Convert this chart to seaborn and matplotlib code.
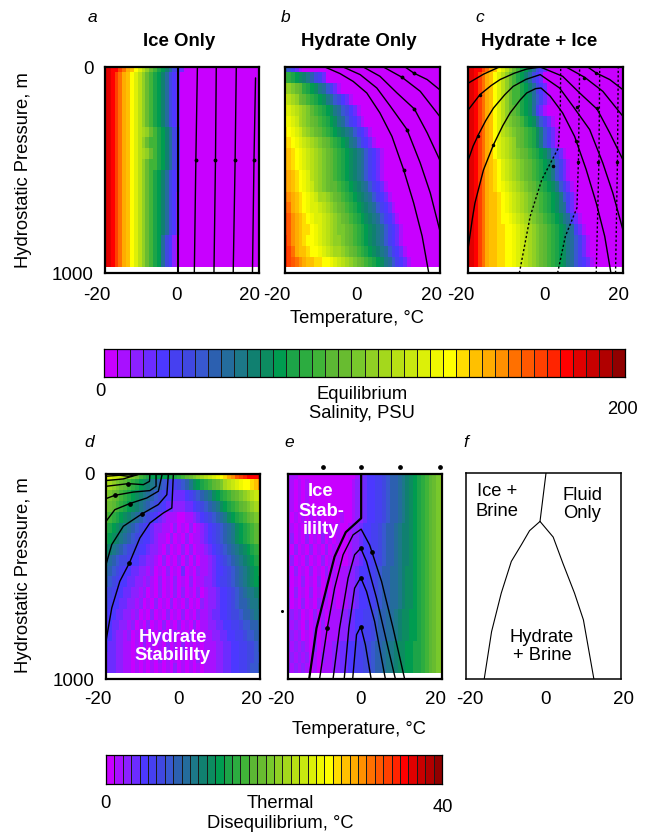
import numpy as np
import matplotlib
matplotlib.use("Agg")
import matplotlib.pyplot as plt
from matplotlib.colors import ListedColormap
from matplotlib.transforms import ScaledTranslation
import seaborn as sns

sns.set_theme(style="white")
plt.rcParams['font.family'] = ['Liberation Sans', 'DejaVu Sans']
plt.rcParams['text.color'] = 'black'
plt.rcParams['xtick.color'] = 'black'
plt.rcParams['ytick.color'] = 'black'

W, H = 648, 833
FS = 13.2

PALETTE = ["#C800FF","#A810FF","#8C20FF","#6C2CFF","#4C38FF","#4640F0","#4048E0","#3858D0",
           "#2C60B0","#246C9C","#1C7888","#108070","#0C8C60","#009C50","#1CA448","#2CAC40",
           "#40B438","#5CB834","#68BC30","#78C82C","#90D024","#A4D81C","#B8E014","#C8E810",
           "#DCF008","#F0F800","#FFFF00","#FFDC00","#FFC000","#FFAC00","#FF9000","#FF7000",
           "#FF5800","#FF4000","#FF2400","#FF0000","#E00000","#C80000","#B00000","#900000"]
CODES = "0123456789abcdefghijklmnopqrstuvwxyzABCD"

# Colour level of every heatmap cell, one string per 52.6 m row, one character per 1 deg C
grid_a = ["AAzzxvtsqomkigedb9643", "AAzxvtsqomkigedb9643", "AAzxvtsqomkigedb9643", "AAzxvtsqomkigedb9643",
          "AAzxvtsqomkigedb9643", "AAzxvtsqomkigedb9643", "AAzxvtsqomlkigedb964", "AAzxvtsqomkiggedb964",
          "AAzxvtsqomlkigedb964", "AAzxvtsqomkiggedb964", "AAzxvtsqomkigedb9643", "AAzxvtsqomkigedb9643",
          "AAzxvtsqomkigedb9642", "AAzxvtsqomkigedb9642", "AAzxvtsqomkigedb9642", "AAzxvtsqomkigedb9642",
          "AAzxvtsqomkiged9642", "AAzxvtsqomkiged9642", "AAzxvtsqomkiged9642"]
grid_b = ["87531", "gfedcba86530", "lkjihfedca97531", "omlkihgfedca976431", "ponmlkjhgfedca976431",
          "qponlkjihgfedca975431", "rqponlkjihgfedcba975431", "srqponmlkjihgfedca975431",
          "tsrqponmlkjihgfedcba975431", "tsrqponmlkjihgfedcba975431", "utsrqpomlkjihgfedcba975431",
          "utsrqponlkjihhgfedcba975431", "vutsrqponllkjihgfedcba975431", "wvtsrqpoonmlkjihgfedcba975431",
          "xwutsrqpoonmlkjihgfedcba975431", "xwutsrrqponmlkjjihgfedcba975431", "ywutsrqqponmlkkjihgfedcba975431",
          "yxvtssrqqponmllkjihgfedcba975431", "yxwvutssrrqqponmlkjihgfedca975431"]
grid_c = ["AAzzxvtsqomkigedb9643", "AAzxvtsqomkigedb9643", "AAzxvtsqomkiggedb9643", "AAzxvtsqomkiggedc97531",
          "AAzxvtsqomkihgedc9531", "AAzxvtsqomkjihgedc97531", "AAzxvtsqomlkjihgfeca7531",
          "AAzxvtsqonmlkihgfeca7531", "AAzxvtsqonmlkjihgfedca7531", "AAzxvtsrqonmlkjihgfedca7531",
          "AAzxvtsrqonmlkjihgfedca7531", "AAzxvtsrqponmlkjihgfedca7531", "AAzxvtssrqponmlkjihgfedca7531",
          "AAzxvtssrqponmlkjihgfedca9531", "AAzxvtssrqqponmlkjihgfedca9531", "AAzxvtssrrqqponmlkjihgfedca9531",
          "AAzxvtssrrqqponmlkjihgfedca97531", "AAzxvtssrrqqponmlkjihgfedca97531", "AAzxvtssrrqqponmlkjihgfedca975431"]
grid_d = ["oonnmlkjigfedddddeefghijklmnopqrtuwxyzzzA", "llkjihgfedcba987655678acdefghijlmnopqqrsu",
          "kjihgfedcba9876544333456789acdefghijklmno", "jihgfedcba9876543322233456789acdefghijklm",
          "hgfedcba98765432111001123456789acdefghijk", "fedcba98765432211020102012345678" "9acdefghijj",
          "edcba987654432110201" "0201123456789acdefghi", "cba98766544322102010" "20201123456789abcdefg",
          "a9876654433221020102" "020201123456789abcdef", "98765443322120102010" "3010211234456789abcde",
          "87654433221210201020" "1020112234556789abcdd", "66544332212010201020" "2010201223445678" "9aabc",
          "65443322120102010201" "020102122344567889aab", "54433221201020102010" "2010211233445667889aa",
          "44332212010201020102" "010201122334455677889", "44322120102010201020" "102010112233445567788",
          "43322110102010102010" "201010111223344556678", "33322110101010201010" "101020111223344556677",
          "33322110101010101020" "101010111223344556778"]
grid_e = ["1110000000000000001" "23445567889abcdefghijk", "1101010000000000012" "23445567889abcdefghijk",
          "1101010000000000012" "23445567889abcdefghijk", "1101010000000000012" "23445567889abcdefghijk",
          "1010101010000010012" "23445567889abcdefghijk", "0101010101010100122" "3445567889abbcdefghijk",
          "0201020102010100122" "3445567889abbcdefghijk", "1020102010201000122" "3445567889abbcdefghijk",
          "0201020102010100122" "3445567889abbcdefghijk", "1020102010201011223" "4455678899abccdefghijk",
          "2010201020101011223" "4455678899abccdefghijk", "1020102010201011223" "4455678899abccdefghijk",
          "2010201020101011223" "4455678899abccdefghijk", "1212010201011122334" "455678899abccddefghijk",
          "2121020102011122334" "455678899abccddefghijk", "1212010201011122334" "455678899abccddefghijk",
          "2121210201112233445" "5667889aabccddeefghijk", "1212120102112233445" "5667889aabccddeefghijk",
          "2121210101112233445" "5667889aabccddeefghijk"]

# Contours: temperature (deg C) and depth (m)
a_T = [[-1, -1], [4.0, 3.6, 3.2], [8.9, 8.7, 8.3], [14.1, 13.8, 13.3], [19.1, 18.7, 18.3]]
a_D = [[0, 1000], [0, 450, 1000], [0, 450, 1000], [0, 450, 1000], [53, 450, 1000]]
a_mark_T = [3.6, 8.7, 13.8, 18.7]
a_mark_D = [450, 450, 450, 450]

b_T = [[11, 13.2, 16.7, 19.9], [5.4, 10.2, 14.9, 19.9], [0.2, 4.5, 8.9, 13.4, 16.7, 19.9],
       [-5, -0.6, 3.7, 7.2, 11.5, 14.9, 17.5, 19.9],
       [-9.7, -5.8, -2.4, 1.1, 4.5, 7.6, 10.6, 13.2, 15.4, 17.1]]
b_D = [[0, 29, 61, 110], [0, 50, 118, 239], [0, 45, 126, 204, 320, 450],
       [0, 37, 102, 191, 304, 466, 612, 790],
       [0, 32, 70, 126, 223, 337, 498, 660, 822, 1000]]
b_mark_T = [13.2, 10.2, 13.4, 11.5, 10.6]
b_mark_D = [29, 50, 204, 304, 498]

c_T = [[-19.9, -18.9, -18.2, -16, -13.4, -11, -9.1, -6.5, -4.8, -2.5, -1.1, 1.3, 4.5, 7.6, 10.6, 13.2, 15.4, 17],
       [-19.9, -18.7, -17.3, -15.4, -13.4, -10.5, -8.3, -5, -1.3, 3.7, 7.2, 11.5, 14.9, 17.5, 20.1],
       [-19.9, -16.9, -14, -11.7, -8, -4.8, -1.3, 4.5, 8.9, 13.4, 16.7, 20.1],
       [-19.9, -16, -11.9], [5.4, 10.2, 14.9, 20.1], [11, 13.2, 16.7, 20.1]]
c_D = [[871, 740, 660, 500, 377, 285, 223, 160, 126, 105, 102, 142, 223, 337, 498, 660, 822, 1000],
       [450, 385, 328, 260, 199, 135, 94, 60, 37, 102, 191, 304, 466, 612, 790],
       [207, 134, 90, 61, 30, 10, 0, 45, 126, 204, 320, 450],
       [78, 35, 0], [0, 50, 118, 239], [0, 29, 61, 110]]
c_dot_T = [[-6.7, -3.9, -0.9, 3.4, 3.9, 4], [3.2, 5.2, 8.2, 8.6, 8.9], [13.2, 13.9, 14.1], [18.2, 18.7, 18.9]]
c_dot_D = [[1000, 725, 547, 393, 207, 0], [1000, 822, 684, 450, 0], [1000, 450, 0], [1000, 450, 0]]
c_mark_T = [-16.9, -17.3, -13.4, 13.2, 10.1, 8.2, 13.5, 8.0, 8.6, 13.6, 18.7, 1.9]
c_mark_D = [134, 333, 380, 29, 53, 194, 199, 357, 460, 460, 460, 482]

d_T = [[-20, -18.5, -16.4, -13.9, -11.2, -8.6, -5.1, -2.9, -2.5],
       [-20, -18.5, -15.5, -10.7, -6.4, -4.2, -3.8],
       [-20, -17.7, -13.8, -9.4, -6.4, -5.4],
       [-20, -17.7, -12.9, -8.6, -7, -7],
       [-20, -14.2, -10.3, -8.7, -8.6],
       [-20, -15.5, -11.2],
       [-20, -16.4, -14.2, -11.2]]
d_D = [[815, 653, 523, 433, 312, 239, 190, 166, 0],
       [442, 344, 255, 195, 149, 101, 0],
       [231, 174, 144, 117, 84, 0],
       [120, 104, 88, 81, 60, 0],
       [60, 47, 52, 36, 0],
       [32, 24, 0],
       [11, 6, 11, 0]]
d_mark_T = [-13.9, -10.7, -13.8, -17.7, -14.2]
d_mark_D = [433, 195, 144, 104, 47]

e_bold_T = [-1, -1, -5, -7.9, -10, -12.6, -14.5]
e_bold_D = [0, 216, 284, 403, 557, 752, 1000]
e_T = [[-11.8, -9.8, -7.9, -5.7, -3.1, -1, 1.2, 4.3, 7.3, 10.3],
       [-8.3, -6.6, -4.4, -2.7, -1.1, 0.4, 3, 6, 7.9],
       [-5.4, -4.2, -2.7, -1.1, 0.4, 2.5, 5.3],
       [-3.2, -2.2, -1.1, 0.1, 1.6]]
e_D = [[1000, 752, 557, 394, 297, 269, 346, 524, 752, 1000],
       [1000, 752, 508, 394, 362, 427, 606, 849, 1000],
       [1000, 752, 557, 505, 573, 719, 1000],
       [1000, 784, 744, 833, 1000]]
e_mark_T = [1.7, -9.8, -1.1, -1.1, -1.1]
e_mark_D = [382, 752, 362, 505, 744]
e_top_T = [-10.9, -1, 9, 19.5]
e_top_D = [-34, -34, -34, -34]
e_stray_T = [-21.5]
e_stray_D = [670]

f_T = [[0.65, -0.9], [-0.9, -3.6, -5.7, -8.3, -10.9, -13.4, -15.3], [-0.9, 2.5, 5, 8, 10.3, 13]]
f_D = [[0, 235], [235, 280, 348, 429, 583, 770, 1000], [235, 311, 438, 583, 713, 1000]]

tick_T = [-20, 0, 20]
tick_labels = ["-20", "0", "20"]
depth_ticks = [0, 1000]


def rect(l, t, r, b):
    return [l / W, 1 - b / H, (r - l) / W, (b - t) / H]


def to_levels(rows):
    return np.array([[CODES.index(ch) for ch in row.ljust(41, "0")[:41]] for row in rows])


fig = plt.figure(figsize=(W / 100, H / 100), dpi=100, facecolor="white")
cmap = ListedColormap(PALETTE)


def label(x, y, s, **kw):
    kw.setdefault("fontsize", FS)
    kw.setdefault("ha", "center")
    kw.setdefault("va", "center")
    fig.text(x / W, 1 - y / H, s, **kw)


def panel(box, rows, offsets, show_y, pad, spine_lw=1.6):
    if rows is not None:
        ah = fig.add_axes(rect(*box))
        sns.heatmap(to_levels(rows), cmap=cmap, vmin=0, vmax=39, cbar=False, ax=ah,
                    xticklabels=False, yticklabels=False)
        ah.set_xlim(0.5, 40.5)
        ah.set_ylim(19.52, 0.5)
        ah.set_xlabel("")
        ah.set_ylabel("")
        ah.set_facecolor("white")
    ax = fig.add_axes(rect(*box), facecolor="none", zorder=3)
    ax.set_xlim(-20, 20)
    ax.set_ylim(1000, 0)
    ax.set_xticks(tick_T, tick_labels, fontsize=13.5)
    ax.tick_params(axis="both", length=0)
    ax.tick_params(axis="x", pad=pad)
    for lab, dx in zip(ax.get_xticklabels(), offsets):
        lab.set_transform(lab.get_transform() + ScaledTranslation(dx / 100, 0, fig.dpi_scale_trans))
    if show_y:
        ax.set_yticks(depth_ticks, ["0", "1000"], fontsize=13.5)
        ax.tick_params(axis="y", pad=8)
    else:
        ax.set_yticks([])
    for sp in ax.spines.values():
        sp.set_visible(True)
        sp.set_color("black")
        sp.set_linewidth(spine_lw)
    return ax


def lines(ax, Ts, Ds, lw=1.0, **kw):
    for t, d in zip(Ts, Ds):
        ax.plot(t, d, color="black", lw=lw, solid_joinstyle="round", **kw)


def marks(ax, t, d, s=1.8):
    ax.plot(t, d, ls="none", marker="o", ms=s, color="black", clip_on=False)


ax_a = panel((105, 67, 259, 273), grid_a, (-8, -6, -9), True, 10)
lines(ax_a, a_T[:1], a_D[:1], lw=1.5)
lines(ax_a, a_T[1:], a_D[1:])
marks(ax_a, a_mark_T, a_mark_D)

ax_b = panel((285, 67, 440, 273), grid_b, (-8, -5.5, -8), False, 10)
lines(ax_b, b_T, b_D)
marks(ax_b, b_mark_T, b_mark_D)

ax_c = panel((468, 67, 622.5, 273), grid_c, (-7, -1, -4), False, 10)
lines(ax_c, c_T, c_D)
lines(ax_c, c_dot_T, c_dot_D, ls=(0, (1.6, 1.6)))
marks(ax_c, c_mark_T, c_mark_D, s=1.5)

ax_d = panel((106, 474, 260, 679), grid_d, (-8, -5, -8), True, 8.5)
lines(ax_d, d_T, d_D)
marks(ax_d, d_mark_T, d_mark_D, s=2.4)

ax_e = panel((288, 474, 442, 679), grid_e, (-7, -5, -7), False, 8.5)
ax_e.plot(e_bold_T, e_bold_D, color="black", lw=1.6)
lines(ax_e, e_T, e_D)
marks(ax_e, e_mark_T, e_mark_D, s=2.4)
marks(ax_e, e_top_T, e_top_D, s=2.4)
marks(ax_e, e_stray_T, e_stray_D, s=1.2)

ax_f = panel((466, 473, 621, 679), None, (4, 2, 3), False, 8.5, spine_lw=1.1)
lines(ax_f, f_T, f_D, lw=0.8)

# In-panel labels
for x, y, s in [(173, 637, "Hydrate"), (173, 656, "Stabililty"),
                (321, 492, "Ice"), (321, 511, "Stab-"), (321, 529, "ililty")]:
    label(x, y, s, color="white", fontweight="bold", zorder=5)
for x, y, s in [(497, 492, "Ice +"), (497, 511, "Brine"), (583, 495, "Fluid"), (582, 514, "Only"),
                (542, 637, "Hydrate"), (542, 655, "+ Brine")]:
    label(x, y, s, zorder=5)

# Titles and panel letters
for x, s in [(179, "Ice Only"), (359, "Hydrate Only"), (539, "Hydrate + Ice")]:
    label(x, 41, s, fontweight="bold", fontsize=13.4)
for x, y, s in [(92, 17, "a"), (286, 17, "b"), (480, 17, "c"), (89, 443, "d"), (289, 443, "e"), (466, 443, "f")]:
    label(x, y, s, fontstyle="italic", fontsize=12.5)

label(24, 170, "Hydrostatic Pressure, m", rotation=90)
label(24, 575, "Hydrostatic Pressure, m", rotation=90)
label(357, 318, "Temperature, °C")
label(359, 729, "Temperature, °C")

# Colour bars
levels = np.arange(40)[None, :]
for box in [(104, 349, 625, 377), (106, 755, 442, 784)]:
    cb = fig.add_axes(rect(*box))
    sns.heatmap(levels, cmap=cmap, vmin=0, vmax=39, cbar=False, ax=cb, xticklabels=False, yticklabels=False,
                linewidths=0.7, linecolor="#1a1a1a")
    for sp in cb.spines.values():
        sp.set_visible(True)
        sp.set_color("black")
        sp.set_linewidth(0.9)

label(100, 392, "0")
label(362, 395, "Equilibrium")
label(362, 413, "Salinity, PSU")
label(622, 409, "200")
label(105, 803, "0")
label(280, 804, "Thermal")
label(280, 823, "Disequilibrium, °C")
label(443, 807, "40")

fig.savefig("out.png", dpi=100)
